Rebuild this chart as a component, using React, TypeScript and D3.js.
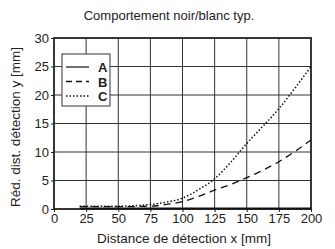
import React, { useEffect, useRef } from "react";
import * as d3 from "d3";

const title = "Comportement noir/blanc typ.";
const xLabel = "Distance de détection x [mm]";
const yLabel = "Réd. dist. détection y [mm]";

const xTicks = [0, 25, 50, 75, 100, 125, 150, 175, 200];
const yTicks = [0, 5, 10, 15, 20, 25, 30];

const seriesNames = ["A", "B", "C"];
const distances = [20, 50, 75, 87.5, 100, 112.5, 125, 137.5, 150, 162.5, 175, 187.5, 200];
const valuesA = [0.1, 0.1, 0.1, 0.1, 0.1, 0.1, 0.1, 0.1, 0.1, 0.1, 0.1, 0.1, 0.1];
const valuesB = [0.4, 0.4, 0.5, 0.8, 1.3, 2.2, 3.3, 4.3, 5.5, 6.8, 8.3, 10.1, 12.1];
const valuesC = [0.5, 0.5, 0.8, 1.2, 1.9, 3.4, 5.3, 8.2, 11.5, 14.5, 17.6, 21.2, 25];

export default function App() {
  const ref = useRef<SVGSVGElement>(null);

  useEffect(() => {
    const svg = d3.select(ref.current);
    svg.selectAll("*").remove();
    const font = "Liberation Sans, Arial, sans-serif";

    const x = d3.scaleLinear().domain([0, 200]).range([54, 311]);
    const y = d3.scaleLinear().domain([0, 30]).range([209, 38]);

    // grid
    svg.append("g").selectAll("line").data(xTicks.slice(1, -1)).enter().append("line")
      .attr("x1", d => x(d)).attr("x2", d => x(d))
      .attr("y1", y(0)).attr("y2", y(30))
      .attr("stroke", "#333").attr("stroke-width", 1);
    svg.append("g").selectAll("line").data(yTicks.slice(1, -1)).enter().append("line")
      .attr("x1", x(0)).attr("x2", x(200))
      .attr("y1", d => y(d)).attr("y2", d => y(d))
      .attr("stroke", "#333").attr("stroke-width", 1);

    // axes
    const gx = svg.append("g").attr("transform", `translate(0,${y(0)})`)
      .call(d3.axisBottom(x).tickValues(xTicks).tickSize(3).tickPadding(2));
    const gy = svg.append("g").attr("transform", `translate(${x(0)},0)`)
      .call(d3.axisLeft(y).tickValues(yTicks).tickSize(3).tickPadding(2));
    [gx, gy].forEach(g => {
      g.select(".domain").remove();
      g.selectAll("text").attr("font-family", font).attr("font-size", 13).attr("fill", "#222");
      g.selectAll("line").attr("stroke", "#222");
    });

    // frame
    svg.append("rect")
      .attr("x", x(0)).attr("y", y(30))
      .attr("width", x(200) - x(0)).attr("height", y(0) - y(30))
      .attr("fill", "none").attr("stroke", "#222").attr("stroke-width", 1.8);

    const line = d3.line<number>().x((d, i) => x(distances[i])).y(d => y(d)).curve(d3.curveMonotoneX);
    const dashes = ["none", "7,5", "1.5,2"];
    const widths = [2, 1.3, 1.5];
    [valuesA, valuesB, valuesC].forEach((vals, i) => {
      svg.append("path").datum(vals)
        .attr("d", line)
        .attr("fill", "none").attr("stroke", "#111")
        .attr("stroke-width", widths[i])
        .attr("stroke-dasharray", dashes[i]);
    });

    // legend
    const lg = svg.append("g");
    lg.append("rect").attr("x", 62).attr("y", 54).attr("width", 48).attr("height", 52)
      .attr("fill", "#fff").attr("stroke", "#333").attr("stroke-width", 1);
    seriesNames.forEach((n, i) => {
      const ly = 67 + i * 14.5;
      lg.append("line").attr("x1", 66).attr("x2", 89).attr("y1", ly).attr("y2", ly)
        .attr("stroke", "#111").attr("stroke-width", i === 0 ? 1.2 : 1.3)
        .attr("stroke-dasharray", i === 0 ? "none" : i === 1 ? "6,4" : "1.5,2");
      lg.append("text").attr("x", 98).attr("y", ly + 5).text(n)
        .attr("font-family", font).attr("font-size", 13).attr("font-weight", "bold").attr("fill", "#222");
    });

    // titles
    svg.append("text").attr("x", 169).attr("y", 20).attr("text-anchor", "middle")
      .attr("font-family", font).attr("font-size", 13).attr("fill", "#222").text(title);
    svg.append("text").attr("x", 184).attr("y", 243).attr("text-anchor", "middle")
      .attr("font-family", font).attr("font-size", 13.5).attr("fill", "#222").text(xLabel);
    svg.append("text").attr("transform", "translate(20,127) rotate(-90)").attr("text-anchor", "middle")
      .attr("font-family", font).attr("font-size", 13.5).attr("fill", "#222").text(yLabel);
  }, []);

  return (
    <svg ref={ref} width={335} height={249}
      style={{ position: "absolute", left: 0, top: 0, background: "#fff" }} />
  );
}
